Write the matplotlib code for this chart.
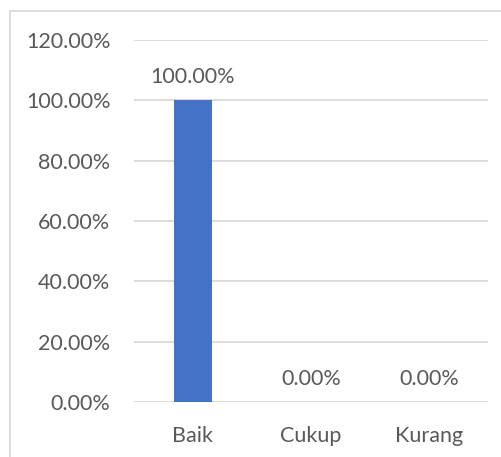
import matplotlib
matplotlib.use("Agg")
import matplotlib.pyplot as plt
from matplotlib.lines import Line2D
from matplotlib.ticker import PercentFormatter

categories = ["Baik", "Cukup", "Kurang"]
values = [100.0, 0.0, 0.0]
y_ticks = [0, 20, 40, 60, 80, 100, 120]

text_color = "#595959"
plt.rcParams["font.family"] = ["Lato", "DejaVu Sans"]

W, H = 502, 457
fig = plt.figure(figsize=(W / 100, H / 100), dpi=100)
ax = fig.add_axes([134 / W, 55 / H, 354 / W, 362 / H])

x = range(len(categories))
bars = ax.bar(x, values, width=0.32, color="#4472C4", zorder=3)

for xi, v in zip(x, values):
    ax.annotate(f"{v:.2f}%", (xi, v), xytext=(0, 16.5), textcoords="offset points",
                ha="center", va="center", fontsize=15.5, color=text_color)

ax.set_xlim(-0.5, 2.5)
ax.set_ylim(0, 120)
ax.set_yticks(y_ticks)
ax.yaxis.set_major_formatter(PercentFormatter(decimals=2))
ax.set_xticks(list(x))
ax.set_xticklabels(categories)
ax.tick_params(axis="both", length=0, labelsize=15.5, labelcolor=text_color)
ax.tick_params(axis="y", pad=17)
ax.tick_params(axis="x", pad=17)
ax.grid(axis="y", color="#D9D9D9", linewidth=1.3, zorder=0)
for s in ax.spines.values():
    s.set_visible(False)

# chart frame (partly cut off in the original)
fig.add_artist(Line2D([10.5 / W, 10.5 / W], [0, (H - 11) / H], color="#D9D9D9", lw=1.3))
fig.add_artist(Line2D([10.5 / W, 1], [(H - 11) / H, (H - 11) / H], color="#D9D9D9", lw=1.3))

fig.savefig("out.png", dpi=100)
